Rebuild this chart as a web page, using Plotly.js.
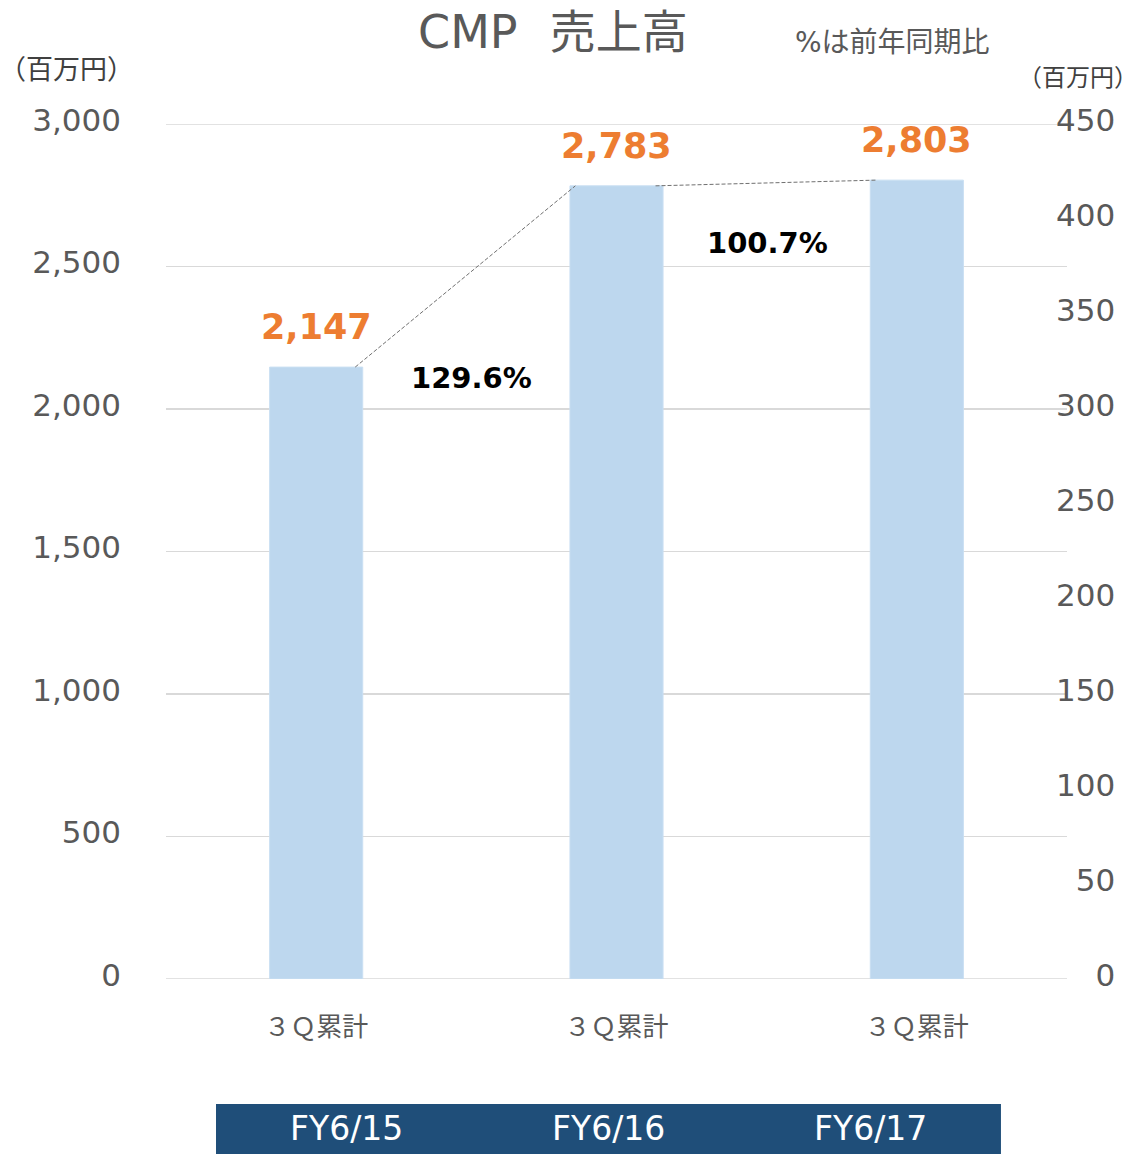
<!DOCTYPE html>
<html>
<head>
<meta charset="utf-8">
<script src="https://cdn.plot.ly/plotly-3.0.1.min.js"></script>
<style>html,body{margin:0;padding:0;background:#fff;}#chart{width:1140px;height:1154px;}</style>
</head>
<body>
<div id="chart"></div>
<script>
// ---- data ----
var categories = ["３Ｑ累計", "３Ｑ累計", "３Ｑ累計"];
var periods = ["FY6/15", "FY6/16", "FY6/17"];
var sales = [2147, 2783, 2803];
var salesLabels = ["2,147", "2,783", "2,803"];
var yoyLabels = ["129.6%", "100.7%"];
var leftTicks = [0, 500, 1000, 1500, 2000, 2500, 3000];
var leftTickText = ["0", "500", "1,000", "1,500", "2,000", "2,500", "3,000"];
var rightTicks = [0, 50, 100, 150, 200, 250, 300, 350, 400, 450];
var titleText = "CMP\u2002\u2009売上高";
var unitText = "（百万円）";
var noteText = "%は前年同期比";

// ---- styles ----
var FONT = "DejaVu Sans, 'Noto Sans CJK JP', sans-serif";
var GRAY = "#595959";
var xs = categories.map(function (_, i) { return i; });
var pad = function (v) { var s = String(v); while (s.length < 3) s = "\u2007" + s; return s; };

var traces = [{
  type: "bar", x: xs, y: sales, width: 0.31,
  marker: { color: "#BDD7EE", line: { color: "#C9DFF2", width: 1 } },
  hoverinfo: "skip", showlegend: false
}];

// connector dashed lines between bar tops
var startOff = 0.13, endOff = 0.137;
for (var i = 0; i < sales.length - 1; i++) {
  traces.push({
    type: "scatter", mode: "lines",
    x: [xs[i] + startOff, xs[i + 1] - endOff],
    y: [sales[i], sales[i + 1]],
    line: { color: "#707070", width: 1, dash: "4px,2px" },
    hoverinfo: "skip", showlegend: false
  });
}
// invisible trace for right axis
traces.push({ type: "scatter", x: [xs[0]], y: [0], yaxis: "y2", mode: "markers",
  marker: { opacity: 0 }, hoverinfo: "skip", showlegend: false });

var annotations = [];
sales.forEach(function (v, i) {
  annotations.push({ x: xs[i], y: v, xref: "x", yref: "y", text: salesLabels[i],
    showarrow: false, xanchor: "center", yanchor: "middle", yshift: 40,
    font: { family: FONT, size: 35, color: "#ED7D31", weight: "bold" } });
});
var yoyShift = [-11, -57];
var yoyX = [0.517, 1.503];
yoyLabels.forEach(function (t, i) {
  annotations.push({ x: yoyX[i], y: sales[i], xref: "x", yref: "y", text: t,
    showarrow: false, xanchor: "center", yanchor: "middle", yshift: yoyShift[i],
    font: { family: FONT, size: 29, color: "#000000", weight: "bold" } });
});
// units
annotations.push({ x: -0.1099, y: 1.0632, xref: "paper", yref: "paper", text: unitText,
  showarrow: false, xanchor: "center", yanchor: "middle", font: { family: FONT, size: 27, color: "#404040" } });
annotations.push({ x: 1.0122, y: 1.0538, xref: "paper", yref: "paper", text: unitText,
  showarrow: false, xanchor: "center", yanchor: "middle", font: { family: FONT, size: 24, color: "#404040" } });
annotations.push({ x: 0.8058, y: 1.0959, xref: "paper", yref: "paper", text: noteText,
  showarrow: false, xanchor: "center", yanchor: "middle", font: { family: FONT, size: 28, color: GRAY } });

// bottom band with periods
var bandX0 = 0.0555, bandX1 = 0.9267, bandY0 = -0.1462, bandY1 = -0.215;
periods.forEach(function (p, i) {
  var w = (bandX1 - bandX0) / periods.length;
  annotations.push({ x: bandX0 + w * (i + 0.5), y: -0.1743, xref: "paper", yref: "paper",
    text: p, showarrow: false, xanchor: "center", yanchor: "middle",
    font: { family: FONT, size: 33, color: "#FFFFFF" } });
});

var layout = {
  width: 1140, height: 1154,
  margin: { l: 166, r: 73, t: 124, b: 175 },
  paper_bgcolor: "#FFFFFF", plot_bgcolor: "#FFFFFF",
  title: { text: titleText, x: 0.485, xanchor: "center", y: 0.972, yanchor: "middle",
    font: { family: FONT, size: 46, color: GRAY } },
  showlegend: false,
  xaxis: { range: [-0.5, 2.5], tickvals: xs, ticktext: categories, showgrid: false,
    zeroline: false, showline: false, ticks: "", ticklabelstandoff: 30,
    tickfont: { family: FONT, size: 26, color: GRAY }, fixedrange: true },
  yaxis: { range: [0, 3000], tickvals: leftTicks, ticktext: leftTickText,
    showgrid: true, gridcolor: "#D9D9D9", gridwidth: 1.5, zeroline: false,
    showline: false, ticks: "", ticklabelstandoff: 44, ticklabelshift: -4,
    tickfont: { family: FONT, size: 31, color: GRAY } },
  yaxis2: { range: [0, 450], overlaying: "y", side: "right", anchor: "free",
    position: 0.9867, tickvals: rightTicks, ticktext: rightTicks.map(pad),
    showgrid: false, zeroline: false, showline: false, ticks: "", ticklabelshift: -4,
    tickfont: { family: FONT, size: 31, color: GRAY } },
  shapes: [{ type: "rect", xref: "paper", yref: "paper", x0: bandX0, x1: bandX1,
    y0: bandY0, y1: bandY1, fillcolor: "#1F4E79", line: { width: 0 }, layer: "below" },
    { type: "line", xref: "paper", yref: "y", x0: 0, x1: 1, y0: leftTicks[0], y1: leftTicks[0],
      line: { color: "#D9D9D9", width: 1.5 }, layer: "below" },
    { type: "line", xref: "paper", yref: "y", x0: 0, x1: 1,
      y0: leftTicks[leftTicks.length - 1], y1: leftTicks[leftTicks.length - 1],
      line: { color: "#D9D9D9", width: 1.5 }, layer: "below" }],
  annotations: annotations
};

Plotly.newPlot("chart", traces, layout, { displayModeBar: false, staticPlot: true });
</script>
</body>
</html>
